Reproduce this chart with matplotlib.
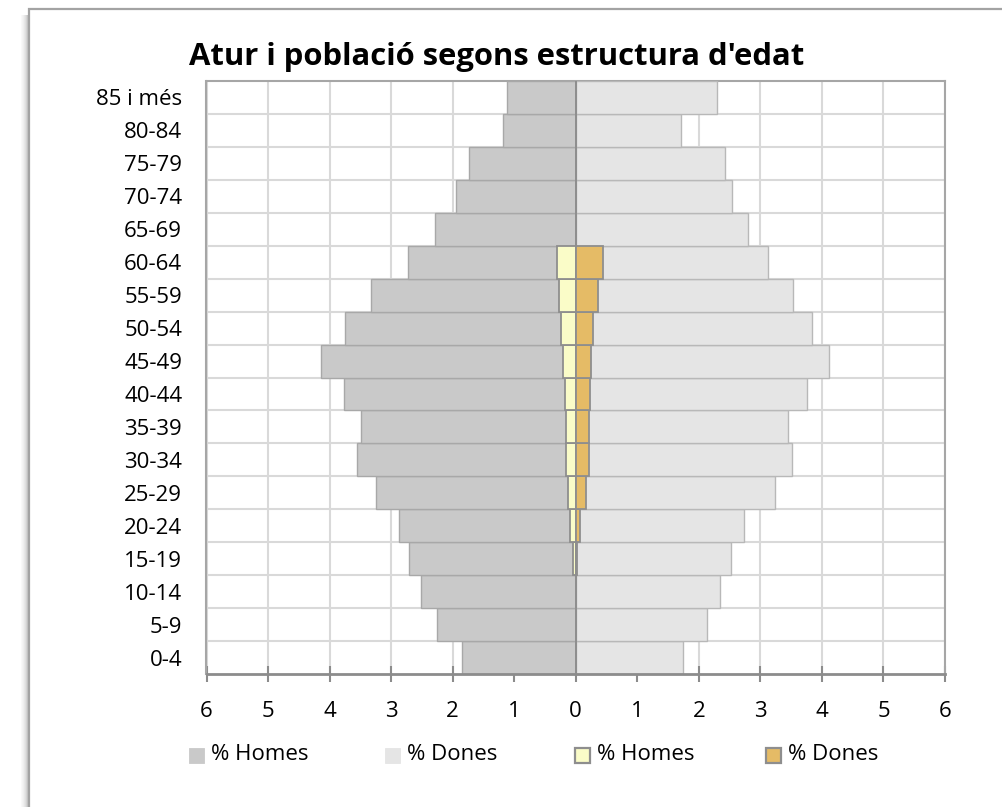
import matplotlib

matplotlib.use("Agg")
import matplotlib.pyplot as plt
from matplotlib.patches import Rectangle

plt.rcParams["font.family"] = ["Open Sans", "DejaVu Sans"]

# ---------------------------------------------------------------- dades
grups = ["0-4", "5-9", "10-14", "15-19", "20-24", "25-29", "30-34", "35-39",
         "40-44", "45-49", "50-54", "55-59", "60-64", "65-69", "70-74",
         "75-79", "80-84", "85 i més"]

# població (% sobre el total)
pob_homes = [1.85, 2.26, 2.51, 2.71, 2.87, 3.25, 3.56, 3.49, 3.76,
             4.14, 3.75, 3.32, 2.73, 2.28, 1.95, 1.74, 1.18, 1.12]
pob_dones = [1.74, 2.13, 2.35, 2.52, 2.74, 3.23, 3.51, 3.45, 3.75,
             4.11, 3.84, 3.53, 3.12, 2.80, 2.54, 2.42, 1.71, 2.30]

# atur (% sobre el total)
atur_homes = [0, 0, 0, 0.04, 0.10, 0.13, 0.16, 0.16, 0.18,
              0.20, 0.24, 0.27, 0.30, 0, 0, 0, 0, 0]
atur_dones = [0, 0, 0, 0.02, 0.07, 0.16, 0.21, 0.22, 0.23,
              0.25, 0.28, 0.36, 0.44, 0, 0, 0, 0, 0]

series = [
    ("% Homes", "#C9C9C9", "#A8A8A8"),
    ("% Dones", "#E5E5E5", "#B8B8B8"),
    ("% Homes", "#FAFCC8", "#8E8E8E"),
    ("% Dones", "#E5BB66", "#8E8E8E"),
]

W, H = 1003, 807
fig = plt.figure(figsize=(W / 100, H / 100), dpi=100)

# marc del gràfic amb ombra a l'esquerra
for i, a in enumerate([0.04, 0.07, 0.11, 0.16, 0.22, 0.30, 0.40, 0.50]):
    x = 21 + i
    fig.patches.append(Rectangle((x / W, 0), 1 / W, 1 - 15 / H, transform=fig.transFigure,
                                 fc="#6E6E6E", ec="none", alpha=a, zorder=0))
fig.patches.append(Rectangle((29 / W, -0.01), 1.0, 1 - 9 / H + 0.01, transform=fig.transFigure,
                             fc="white", ec="#A3A3A3", lw=1.6, zorder=1))

ax = fig.add_axes([206.5 / W, 1 - 674 / H, (945 - 206.5) / W, (674 - 81) / H])
ax.set_zorder(2)
ax.set_facecolor("white")

y = list(range(len(grups)))
(_, c1, e1), (_, c2, e2), (_, c3, e3), (_, c4, e4) = series
ax.barh(y, [-v for v in pob_homes], height=1.0, color=c1, edgecolor=e1, lw=1.0, zorder=3)
ax.barh(y, pob_dones, height=1.0, color=c2, edgecolor=e2, lw=1.0, zorder=3)
ax.barh(y, [-v for v in atur_homes], height=1.0, color=c3, edgecolor=e3, lw=1.3, zorder=4)
ax.barh(y, atur_dones, height=1.0, color=c4, edgecolor=e4, lw=1.3, zorder=4)

ax.set_xlim(-6, 6)
ax.set_ylim(-0.5, len(grups) - 0.5)
ax.set_xticks(range(-6, 7))
ax.set_xticklabels([str(abs(t)) for t in range(-6, 7)], fontsize=16)
ax.set_yticks(y)
ax.set_yticklabels(grups, fontsize=16)
ax.set_yticks([v + 0.5 for v in y[:-1]], minor=True)

ax.grid(axis="x", color="#D9D9D9", lw=1.5, zorder=0)
ax.grid(axis="y", which="minor", color="#D9D9D9", lw=1.5, zorder=0)
ax.set_axisbelow(True)

ax.tick_params(axis="y", which="both", length=0, pad=17.5)
ax.tick_params(axis="x", direction="inout", length=11, width=1.5, color="#8C8C8C", pad=14)
for s in ["left", "top", "right"]:
    ax.spines[s].set_color("#A6A6A6")
    ax.spines[s].set_linewidth(1.5)
ax.spines["bottom"].set_color("#8C8C8C")
ax.spines["bottom"].set_linewidth(2)
ax.spines["bottom"].set_zorder(5)

fig.text(497 / W, 1 - 57 / H, "Atur i població segons estructura d'edat",
         ha="center", va="center", fontsize=22.3, weight="bold", color="#000")

# llegenda
leg_x = [189, 385, 575, 766]
for (nom, fc, ec), x in zip(series, leg_x):
    vora = fc in (c3, c4)
    fig.patches.append(Rectangle((x / W, 1 - 763 / H), 15 / W, 15 / H, transform=fig.transFigure,
                                 fc=fc, ec=ec if vora else fc, lw=1.6 if vora else 0.6, zorder=3))
    fig.text((x + 22) / W, 1 - 755 / H, nom, ha="left", va="center", fontsize=16)

fig.savefig("out.png", dpi=100)
